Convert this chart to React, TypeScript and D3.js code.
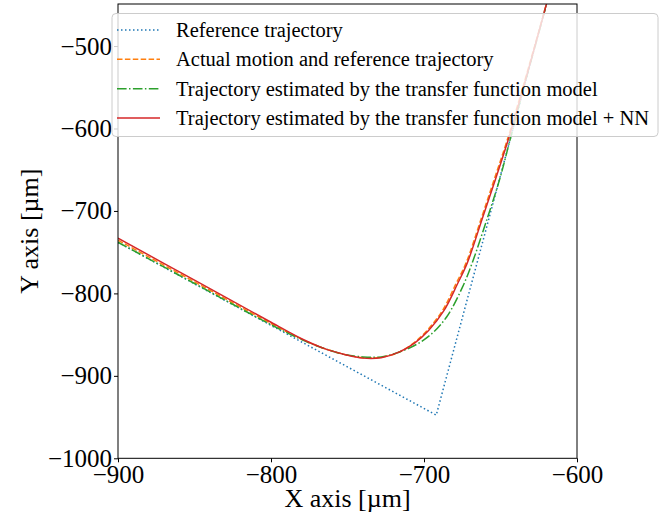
import React, { useRef, useEffect } from 'react';
import * as d3 from 'd3';

type Pt = [number, number];

// Reference trajectory (straight segments)
const referenceTraj: Pt[] = [
  [-900, -738], [-692, -947.6], [-610, -380],
];

// Actual motion
const actualTraj: Pt[] = [
  [-900, -735.5], [-850, -786], [-800, -836.5], [-780, -855.5], [-765, -867], [-752, -874],
  [-740, -878], [-728, -877.5], [-716, -871], [-706, -859], [-698, -845], [-688, -821],
  [-679, -788], [-672.5, -763], [-662.2, -707], [-653.8, -660], [-645.6, -614],
  [-637, -560], [-622.7, -467], [-610, -380],
];

// Transfer function model
const tfTraj: Pt[] = [
  [-900, -738], [-850, -788], [-800, -838], [-780, -856], [-765, -867], [-752, -874],
  [-740, -877], [-728, -877], [-716, -871], [-705, -862], [-695, -849], [-685, -828],
  [-675, -793], [-668.5, -763], [-658.3, -707], [-650.3, -660], [-643.8, -614],
  [-636.2, -560], [-622.5, -467], [-610, -380],
];

// Transfer function model + NN
const nnTraj: Pt[] = [
  [-900, -733], [-850, -784], [-800, -835], [-780, -855], [-765, -867], [-752, -874],
  [-740, -878.5], [-728, -878], [-716, -871], [-706, -860], [-697, -845], [-687, -821],
  [-678, -788], [-671.7, -763], [-661.5, -707], [-653, -660], [-645, -614],
  [-636.5, -560], [-622.6, -467], [-610, -380],
];

const xTicks = [-900, -800, -700, -600];
const yTicks = [-1000, -900, -800, -700, -600, -500];

const legendLabels = [
  'Reference trajectory',
  'Actual motion and reference trajectory',
  'Trajectory estimated by the transfer function model',
  'Trajectory estimated by the transfer function model + NN',
];

const series = [
  { data: referenceTraj, color: '#1f77b4', dash: '1.5,2.5', curve: d3.curveLinear },
  { data: actualTraj, color: '#ff7f0e', dash: '5.5,2.4', curve: d3.curveCatmullRom },
  { data: tfTraj, color: '#2ca02c', dash: '9.6,2.4,1.5,2.4', curve: d3.curveCatmullRom },
  { data: nnTraj, color: '#d62728', dash: null, curve: d3.curveCatmullRom },
];

const App: React.FC = () => {
  const ref = useRef<SVGSVGElement | null>(null);

  useEffect(() => {
    if (!ref.current) return;
    const svg = d3.select(ref.current);
    svg.selectAll('*').remove();

    const font = "'Liberation Serif', 'Times New Roman', serif";
    const left = 118, right = 577, top = 4, bottom = 458.3;

    const x = d3.scaleLinear().domain([-900, -600]).range([left, right]);
    const y = d3.scaleLinear().domain([-1000, -449]).range([bottom, top]);

    svg.append('defs').append('clipPath').attr('id', 'plot-clip')
      .append('rect')
      .attr('x', left).attr('y', top)
      .attr('width', right - left).attr('height', bottom - top);

    const g = svg.append('g').attr('clip-path', 'url(#plot-clip)');

    series.forEach(s => {
      const line = d3.line<Pt>().x(d => x(d[0])).y(d => y(d[1])).curve(s.curve);
      g.append('path')
        .datum(s.data)
        .attr('fill', 'none')
        .attr('stroke', s.color)
        .attr('stroke-width', 1.5)
        .attr('stroke-dasharray', s.dash)
        .attr('d', line);
    });

    // frame
    svg.append('rect')
      .attr('x', left).attr('y', top)
      .attr('width', right - left).attr('height', bottom - top)
      .attr('fill', 'none').attr('stroke', '#000').attr('stroke-width', 1);

    const fmt = (d: d3.NumberValue) => d3.format('d')(d as number).replace('-', '\u2212');

    // x axis
    const xAxis = svg.append('g')
      .attr('transform', `translate(0,${bottom})`)
      .call(d3.axisBottom(x).tickValues(xTicks).tickSize(4).tickPadding(3).tickFormat(fmt));
    xAxis.select('.domain').remove();
    xAxis.selectAll('text').attr('font-family', font).attr('font-size', 25).attr('fill', '#000');

    // y axis
    const yAxis = svg.append('g')
      .attr('transform', `translate(${left},0)`)
      .call(d3.axisLeft(y).tickValues(yTicks).tickSize(4).tickPadding(2).tickFormat(fmt));
    yAxis.select('.domain').remove();
    yAxis.selectAll('text').attr('font-family', font).attr('font-size', 25).attr('fill', '#000');

    // axis labels
    svg.append('text')
      .attr('x', (left + right) / 2).attr('y', 507)
      .attr('text-anchor', 'middle')
      .attr('font-family', font).attr('font-size', 26)
      .text('X axis [\u00b5m]');

    svg.append('text')
      .attr('transform', `translate(38,${(top + bottom) / 2}) rotate(-90)`)
      .attr('text-anchor', 'middle')
      .attr('font-family', font).attr('font-size', 26)
      .text('Y axis [\u00b5m]');

    // legend
    const lg = svg.append('g');
    lg.append('rect')
      .attr('x', 112).attr('y', 13.5)
      .attr('width', 546).attr('height', 123)
      .attr('rx', 4)
      .attr('fill', 'white').attr('fill-opacity', 0.8)
      .attr('stroke', '#cccccc').attr('stroke-width', 1);

    const rowY = d3.scaleLinear().domain([0, 3]).range([30, 118]);
    legendLabels.forEach((label, i) => {
      const s = series[i];
      const yy = rowY(i);
      lg.append('line')
        .attr('x1', 117).attr('x2', 160)
        .attr('y1', yy).attr('y2', yy)
        .attr('stroke', s.color).attr('stroke-width', 1.5)
        .attr('stroke-dasharray', s.dash);
      lg.append('text')
        .attr('x', 176).attr('y', yy + 7)
        .attr('font-family', font).attr('font-size', 20.5)
        .text(label);
    });
  }, []);

  return (
    <svg
      ref={ref}
      width={672}
      height={522}
      style={{ position: 'absolute', left: 0, top: 0, background: 'white' }}
    />
  );
};

export default App;
